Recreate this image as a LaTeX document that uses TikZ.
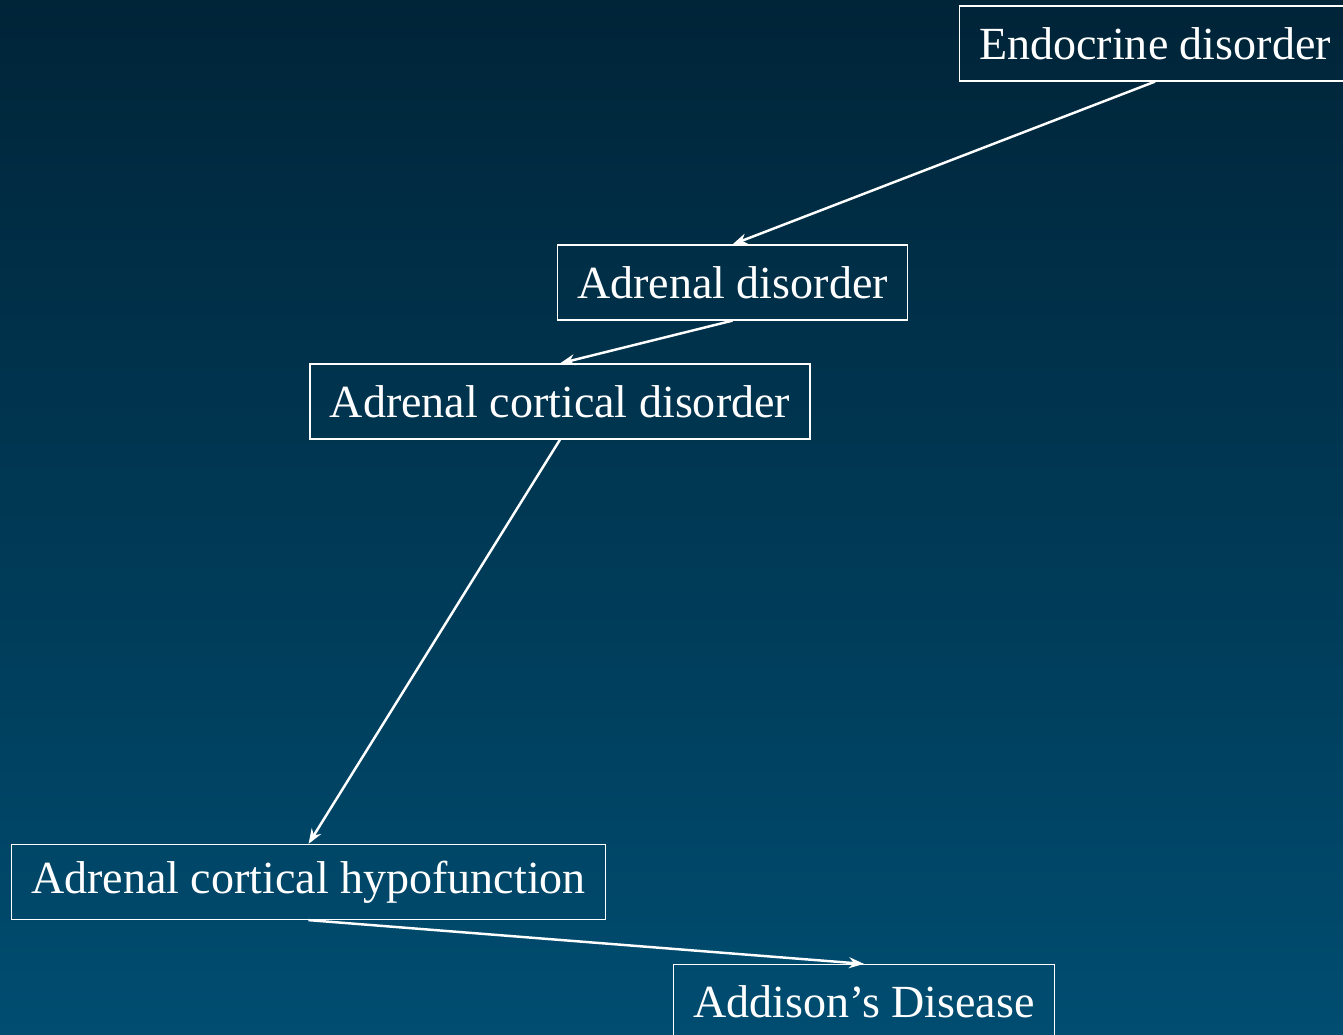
\documentclass[tikz,border=0pt]{standalone}
\usepackage{fontspec}
\usetikzlibrary{arrows.meta}
\setmainfont{Liberation Serif}
\definecolor{bgtop}{RGB}{0,36,56}
\definecolor{bgbottom}{RGB}{0,77,113}
\tikzset{
  termbox/.style={draw=white,line width=0.7pt,text=white,inner xsep=0.4cm,
    minimum height=1.5cm,font=\fontsize{26.2}{30}\selectfont},
  link/.style={->,draw=white,line width=1.4pt}
}
\begin{document}
\begin{tikzpicture}[>={Stealth[length=0.3cm,width=0.22cm]},x=0.02cm,y=-0.02cm]
		\useasboundingbox (0,0) rectangle (1343,1035);
		\clip (0,0) rectangle (1343,1035);
		\shade[top color=bgtop,bottom color=bgbottom] (0,0) rectangle (1343,1035);
		\node[termbox] (endo) at (1155,43.5) {Endocrine disorder};
		\node[termbox] (adrenal) at (732.5,282.5) {Adrenal disorder};
		\node[termbox] (cortical) at (560,401.5) {Adrenal cortical disorder};
		\node[termbox] (hypo) at (308.5,882) {Adrenal cortical hypofunction};
		\node[termbox] (addison) at (864,1002) {Addison’s Disease};
		\draw[link] (endo.south) -- (adrenal.north);
		\draw[link] (adrenal.south) -- (cortical.north);
		\draw[link] (cortical.south) -- (hypo.north);
		\draw[link] (hypo.south) -- (addison.north);
\end{tikzpicture}
\end{document}
